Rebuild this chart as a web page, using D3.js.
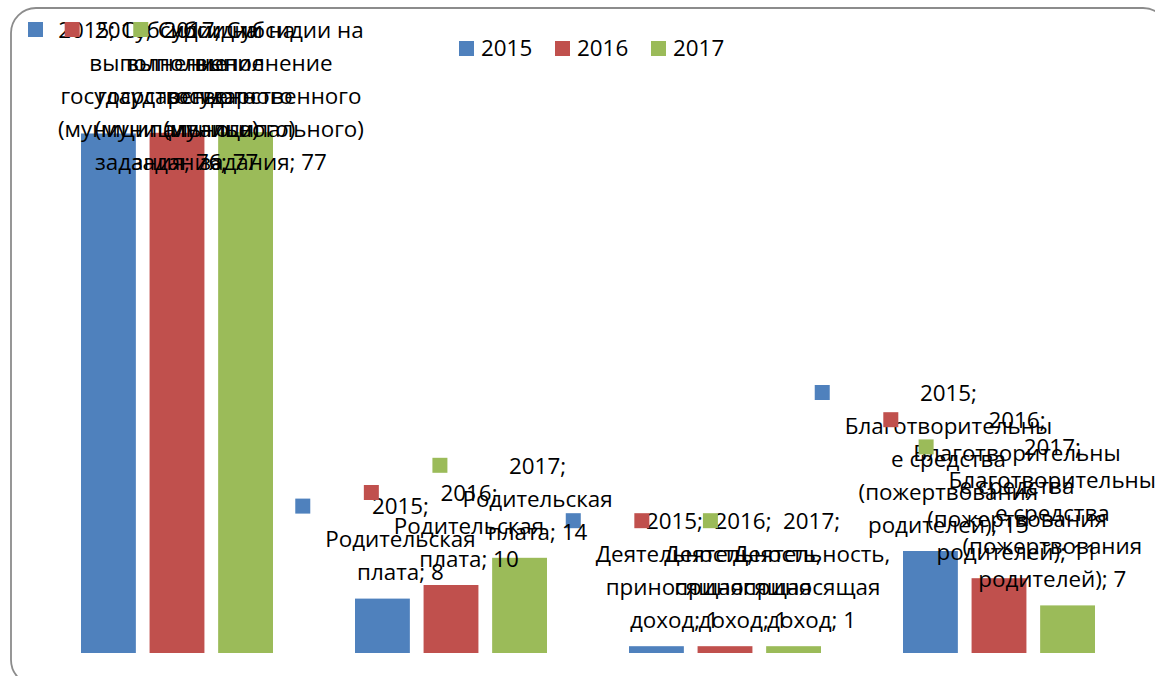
<!DOCTYPE html>
<html>
<head>
<meta charset="utf-8">
<script src="https://cdn.jsdelivr.net/npm/d3@7"></script>
<style>
  body { margin: 0; background: #fff; }
  svg text { font-family: "Open Sans", "Noto Sans", sans-serif; fill: #000; }
</style>
</head>
<body>
<div id="chart"></div>
<script>
var width = 1155,
    height = 676;

// categories and series
var categories = [
  "Субсидии на выполнение государственного (муниципального) задания",
  "Родительская плата",
  "Деятельность, приносящая доход",
  "Благотворительные средства (пожертвования родителей)"
];
var years = ["2015", "2016", "2017"];
var values2015 = [76.4, 8, 1, 15];
var values2016 = [76.5, 10, 1, 11];
var values2017 = [76.6, 14, 1, 7];
var colors = ["#4F81BD", "#C0504D", "#9BBB59"];

// how excel wrapped each data label ({y} = year, {v} = value)
var labelWraps = [
  ["{y}; Субсидии на", "выполнение", "государственного", "(муниципального)", "задания; {v}"],
  ["{y};", "Родительская", "плата; {v}"],
  ["{y};", "Деятельность,", "приносящая", "доход; {v}"],
  ["{y};", "Благотворительны", "е средства", "(пожертвования", "родителей); {v}"]
];

var series = [values2015, values2016, values2017];
var fmt = d3.format(".0f");
var fontSize = 22.4,
    lineH = 33;

var svg = d3.select("#chart").append("svg")
    .attr("width", width)
    .attr("height", height);

// chart frame
svg.append("rect")
    .attr("x", 11).attr("y", 8)
    .attr("width", 1157).attr("height", 677)
    .attr("rx", 25)
    .attr("fill", "#fff")
    .attr("stroke", "#8c8c8c")
    .attr("stroke-width", 1.8);

var x0 = d3.scaleBand()
    .domain(categories)
    .range([40, 1136]);

var x1 = d3.scaleBand()
    .domain(years)
    .range([41, 233])
    .paddingInner(0.2);

var y = d3.scaleLinear()
    .domain([0, 80])
    .range([653, 109]);

// bars
var bars = [];
categories.forEach(function(c, ci) {
  years.forEach(function(yr, si) {
    bars.push({ cat: c, ci: ci, year: yr, si: si, value: series[si][ci] });
  });
});

svg.append("g").selectAll("rect")
    .data(bars)
    .enter()
    .append("rect")
    .attr("x", function(d) { return x0(d.cat) + x1(d.year); })
    .attr("y", function(d) { return y(d.value); })
    .attr("width", x1.bandwidth())
    .attr("height", function(d) { return y(0) - y(d.value); })
    .attr("fill", function(d) { return colors[d.si]; });

// measuring helper
var probe = svg.append("text").attr("font-size", fontSize);
function textW(s) {
  probe.text(s);
  return probe.node().getComputedTextLength();
}

// data labels, drawn series by series like excel does
var labels = svg.append("g");
years.forEach(function(yr, si) {
  categories.forEach(function(c, ci) {
    var v = series[si][ci];
    var lines = labelWraps[ci].map(function(l) {
      return l.replace("{y}", yr).replace("{v}", fmt(v));
    });
    var w = d3.max(lines, textW);
    var barMid = x0(c) + x1(yr) + x1.bandwidth() / 2;
    var cx = barMid + 18;
    if (cx - w / 2 - 30 < 28) cx = 28 + 30 + w / 2;
    if (cx + w / 2 > 1156) cx = 1156 - w / 2;
    var firstY = y(v) - 26 - lineH * (lines.length - 1);
    if (firstY < 30) firstY = 30;

    labels.append("rect")
        .attr("x", cx - w / 2 - 30)
        .attr("y", firstY - 8)
        .attr("width", 15)
        .attr("height", 15)
        .attr("fill", colors[si]);

    var t = labels.append("text")
        .attr("font-size", fontSize)
        .attr("text-anchor", "middle");
    t.selectAll("tspan")
        .data(lines)
        .enter()
        .append("tspan")
        .attr("x", cx)
        .attr("y", function(d, i) { return firstY + i * lineH; })
        .attr("dy", "0.35em")
        .text(function(d) { return d; });
  });
});
probe.remove();

// legend
var legend = svg.append("g")
    .selectAll("g")
    .data(years)
    .enter()
    .append("g")
    .attr("transform", function(d, i) { return "translate(" + (459 + i * 96) + ",41)"; });

legend.append("rect")
    .attr("width", 15)
    .attr("height", 15)
    .attr("fill", function(d, i) { return colors[i]; });

legend.append("text")
    .attr("x", 22)
    .attr("y", 7.5)
    .attr("dy", "0.35em")
    .attr("font-size", fontSize)
    .text(function(d) { return d; });
</script>
</body>
</html>
